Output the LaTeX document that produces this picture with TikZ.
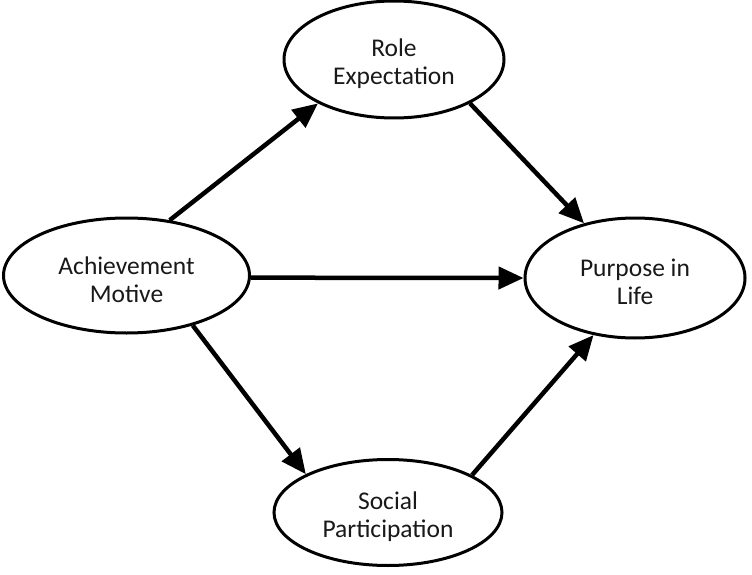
\documentclass[tikz,border=0pt]{standalone}
\usepackage{fontspec}
\setmainfont{Carlito}
\usetikzlibrary{shapes.geometric,arrows.meta}
\begin{document}
\begin{tikzpicture}[x=1pt,y=-1pt,
  oval/.style={ellipse,draw=black,line width=3pt,fill=white,inner sep=0pt},
  txt/.style={align=center,inner sep=0pt,text=black!90,yshift=-4pt,
    font=\fontsize{25.5}{28}\selectfont},
  link/.style={line width=4.5pt,-{Triangle[length=25pt,width=22pt]}}]
\useasboundingbox (0,0) rectangle (752,575);
\node[oval,minimum width=246pt,minimum height=115pt,
  label={[txt]center:Achievement\\Motive}] (am) at (126.5,275.5) {};
\node[oval,minimum width=220pt,minimum height=117pt,
  label={[txt]center:Role\\Expectation}] (re) at (394,59.5) {};
\node[oval,minimum width=220pt,minimum height=120pt,
  label={[txt]center:Purpose in\\Life}] (pl) at (635,278) {};
\node[oval,minimum width=228pt,minimum height=106pt,
  label={[txt]center:Social\\Participation}] (sp) at (388,512.5) {};
\draw[link] (am.52) -- (re.210);
\draw[link] (re.-30.5) -- (pl.133);
\draw[link] (am.-1) -- (pl.180);
\draw[link] (am.-37) -- (sp.155);
\draw[link] (sp.24) -- (pl.234);
\end{tikzpicture}
\end{document}
